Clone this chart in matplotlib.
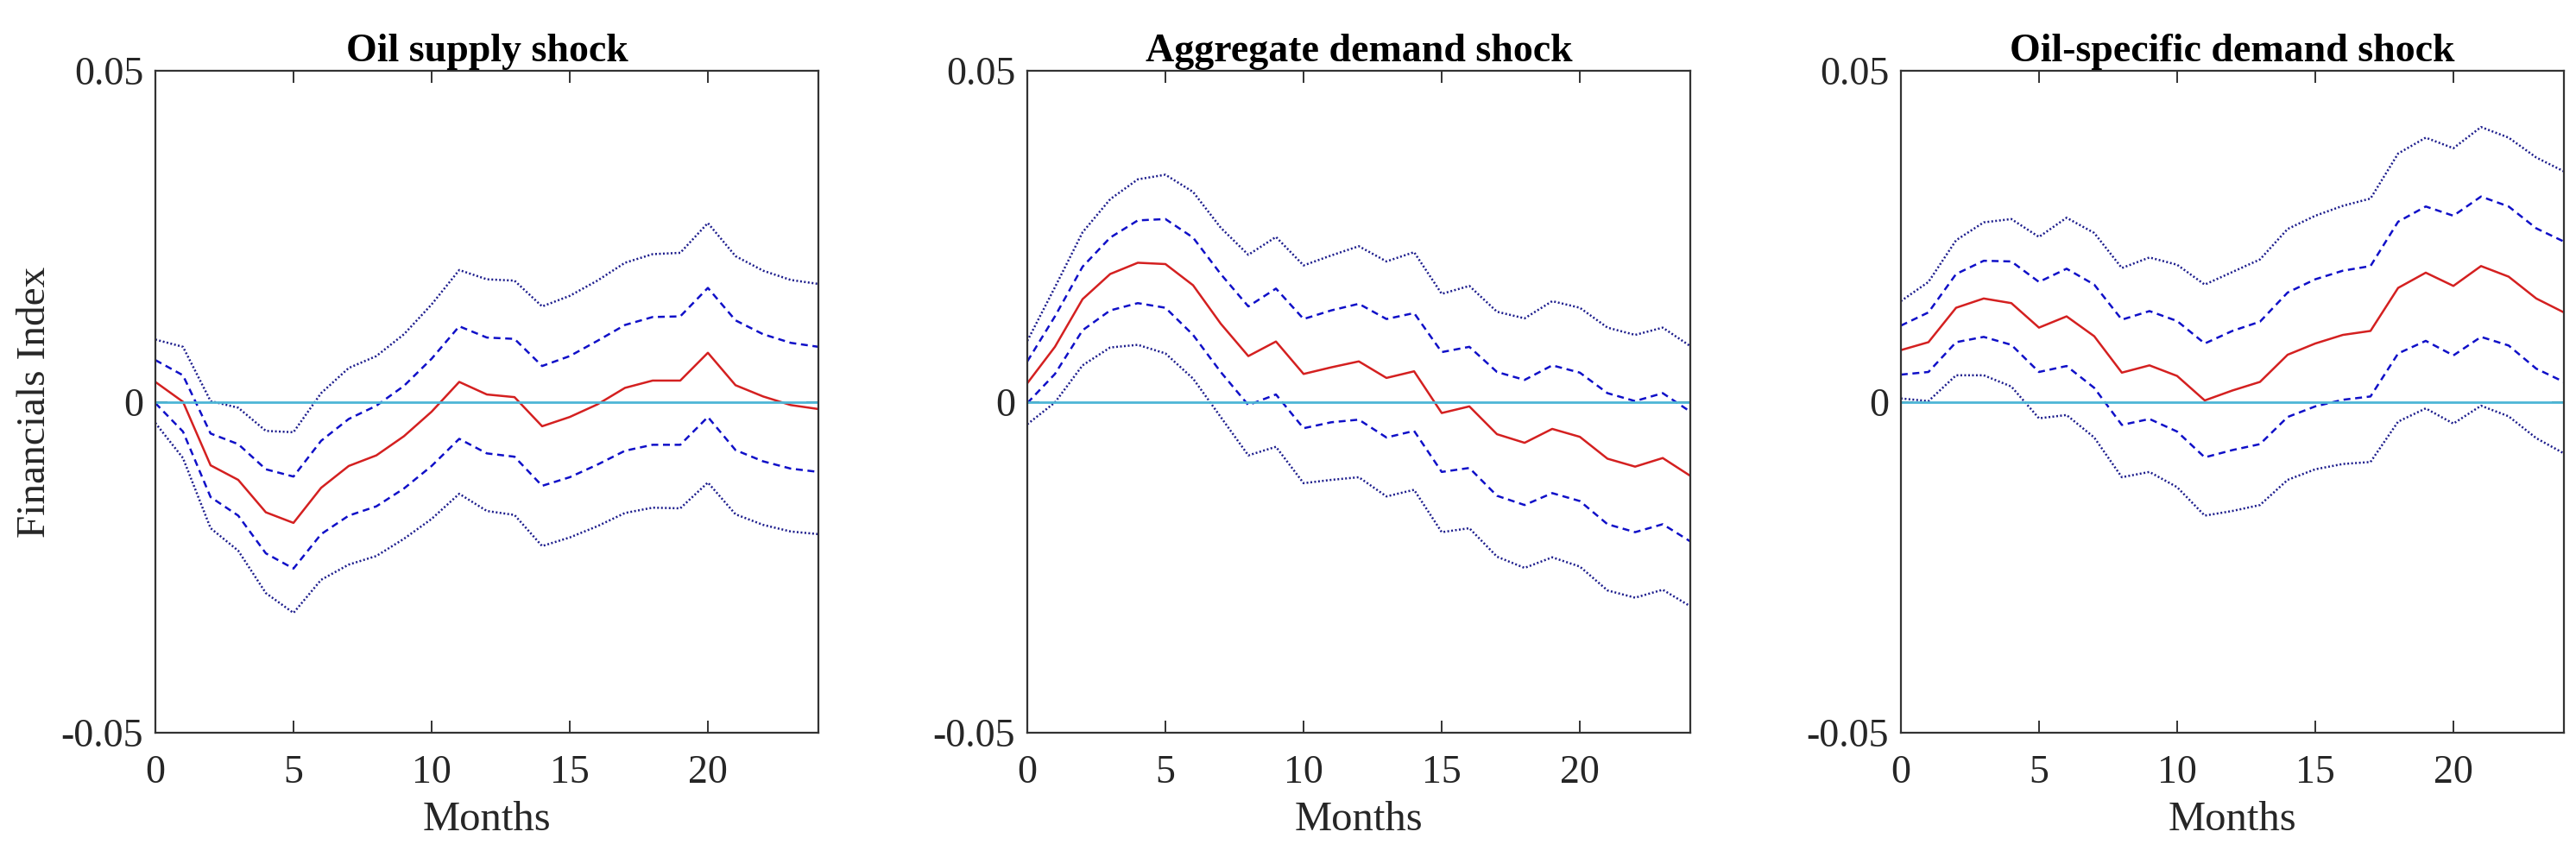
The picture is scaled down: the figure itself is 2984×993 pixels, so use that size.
import numpy as np
import matplotlib
matplotlib.use("Agg")
from matplotlib import pyplot as plt

plt.rcParams['font.family'] = ['Liberation Serif', 'DejaVu Serif']
plt.rcParams['axes.unicode_minus'] = False

months = np.arange(25)
titles = ["Oil supply shock", "Aggregate demand shock", "Oil-specific demand shock"]
ylabel = "Financials Index"
xlabel = "Months"
yticks = [-0.05, 0, 0.05]
ytick_labels = ["-0.05", "0", "0.05"]
xticks = [0, 5, 10, 15, 20]

# oil supply shock
supply_mid = [0.0030, 0.0000, -0.0096, -0.0118, -0.0167, -0.0183, -0.0130, -0.0097, -0.0081, -0.0052,
              -0.0015, 0.0030, 0.0011, 0.0007, -0.0037, -0.0023, -0.0004, 0.0021, 0.0032, 0.0032,
              0.0074, 0.0025, 0.0008, -0.0005, -0.0011]
supply_hi68 = [0.0063, 0.0040, -0.0048, -0.0064, -0.0102, -0.0113, -0.0059, -0.0026, -0.0006, 0.0024,
               0.0065, 0.0114, 0.0097, 0.0095, 0.0054, 0.0069, 0.0092, 0.0116, 0.0128, 0.0129,
               0.0172, 0.0123, 0.0102, 0.0089, 0.0083]
supply_lo68 = [-0.0002, -0.0045, -0.0144, -0.0172, -0.0229, -0.0252, -0.0200, -0.0172, -0.0158, -0.0131,
               -0.0097, -0.0056, -0.0078, -0.0083, -0.0127, -0.0114, -0.0095, -0.0074, -0.0065, -0.0065,
               -0.0023, -0.0073, -0.0090, -0.0101, -0.0106]
supply_hi95 = [0.0094, 0.0083, 0.0001, -0.0009, -0.0044, -0.0046, 0.0013, 0.0051, 0.0069, 0.0102,
               0.0147, 0.0199, 0.0185, 0.0183, 0.0144, 0.0160, 0.0183, 0.0210, 0.0223, 0.0225,
               0.0270, 0.0220, 0.0198, 0.0184, 0.0178]
supply_lo95 = [-0.0032, -0.0085, -0.0191, -0.0225, -0.0289, -0.0319, -0.0269, -0.0246, -0.0233, -0.0207,
               -0.0177, -0.0139, -0.0165, -0.0171, -0.0218, -0.0205, -0.0188, -0.0168, -0.0160, -0.0161,
               -0.0122, -0.0170, -0.0186, -0.0196, -0.0200]

# aggregate demand shock
agg_mid = [0.0028, 0.0083, 0.0155, 0.0193, 0.0210, 0.0208, 0.0176, 0.0118, 0.0069, 0.0091,
           0.0042, 0.0052, 0.0061, 0.0036, 0.0046, -0.0017, -0.0007, -0.0049, -0.0062, -0.0041,
           -0.0053, -0.0086, -0.0098, -0.0085, -0.0112]
agg_hi68 = [0.0061, 0.0129, 0.0204, 0.0248, 0.0274, 0.0276, 0.0248, 0.0193, 0.0144, 0.0171,
            0.0125, 0.0138, 0.0148, 0.0125, 0.0134, 0.0075, 0.0083, 0.0045, 0.0033, 0.0055,
            0.0044, 0.0013, 0.0001, 0.0013, -0.0015]
agg_lo68 = [-0.0002, 0.0042, 0.0108, 0.0138, 0.0149, 0.0142, 0.0101, 0.0045, -0.0005, 0.0011,
            -0.0040, -0.0031, -0.0027, -0.0054, -0.0044, -0.0106, -0.0100, -0.0142, -0.0156, -0.0138,
            -0.0150, -0.0185, -0.0197, -0.0185, -0.0211]
agg_hi95 = [0.0092, 0.0173, 0.0256, 0.0306, 0.0336, 0.0343, 0.0317, 0.0263, 0.0222, 0.0249,
            0.0206, 0.0221, 0.0235, 0.0212, 0.0226, 0.0163, 0.0175, 0.0136, 0.0126, 0.0152,
            0.0142, 0.0112, 0.0101, 0.0112, 0.0084]
agg_lo95 = [-0.0034, -0.0001, 0.0055, 0.0082, 0.0086, 0.0073, 0.0035, -0.0023, -0.0081, -0.0068,
            -0.0123, -0.0118, -0.0114, -0.0143, -0.0133, -0.0197, -0.0191, -0.0234, -0.0251, -0.0235,
            -0.0249, -0.0285, -0.0296, -0.0284, -0.0309]

# oil-specific demand shock
spec_mid = [0.0078, 0.0090, 0.0142, 0.0156, 0.0149, 0.0112, 0.0129, 0.0099, 0.0044, 0.0055,
            0.0039, 0.0002, 0.0017, 0.0030, 0.0071, 0.0088, 0.0101, 0.0107, 0.0172, 0.0195,
            0.0175, 0.0205, 0.0189, 0.0156, 0.0135]
spec_hi68 = [0.0115, 0.0135, 0.0193, 0.0213, 0.0212, 0.0181, 0.0201, 0.0177, 0.0124, 0.0137,
             0.0122, 0.0088, 0.0107, 0.0121, 0.0165, 0.0185, 0.0198, 0.0205, 0.0272, 0.0295,
             0.0281, 0.0310, 0.0295, 0.0262, 0.0242]
spec_lo68 = [0.0041, 0.0045, 0.0090, 0.0098, 0.0086, 0.0045, 0.0054, 0.0021, -0.0035, -0.0026,
             -0.0045, -0.0084, -0.0073, -0.0064, -0.0023, -0.0007, 0.0003, 0.0008, 0.0073, 0.0092,
             0.0070, 0.0098, 0.0085, 0.0050, 0.0030]
spec_hi95 = [0.0152, 0.0181, 0.0244, 0.0271, 0.0276, 0.0249, 0.0278, 0.0255, 0.0202, 0.0218,
             0.0207, 0.0177, 0.0196, 0.0215, 0.0261, 0.0281, 0.0296, 0.0307, 0.0375, 0.0399,
             0.0383, 0.0415, 0.0399, 0.0369, 0.0348]
spec_lo95 = [0.0005, 0.0001, 0.0040, 0.0040, 0.0023, -0.0025, -0.0020, -0.0054, -0.0114, -0.0106,
             -0.0129, -0.0172, -0.0165, -0.0156, -0.0118, -0.0102, -0.0094, -0.0091, -0.0030, -0.0010,
             -0.0033, -0.0006, -0.0022, -0.0055, -0.0078]

panels = [
  (supply_mid, supply_hi68, supply_lo68, supply_hi95, supply_lo95),
  (agg_mid, agg_hi68, agg_lo68, agg_hi95, agg_lo95),
  (spec_mid, spec_hi68, spec_lo68, spec_hi95, spec_lo95),
]

fig = plt.figure(figsize=(14.92, 4.965), dpi=200)
lefts = [0.0603, 0.3988, 0.7379]
frame_col = "#333333"

for i, (mid, hi68, lo68, hi95, lo95) in enumerate(panels):
  ax = fig.add_axes([lefts[i], 0.145, 0.2574, 0.7724])
  ax.plot(months, hi95, color="#1c1c8c", lw=0.9, linestyle=(0, (0.8, 1.0)))
  ax.plot(months, lo95, color="#1c1c8c", lw=0.9, linestyle=(0, (0.8, 1.0)))
  ax.plot(months, hi68, color="#1010c8", lw=0.9, linestyle=(0, (3.2, 2.2)))
  ax.plot(months, lo68, color="#1010c8", lw=0.9, linestyle=(0, (3.2, 2.2)))
  ax.plot(months, mid, color="#d42020", lw=0.9)
  ax.axhline(0, color="#4db6d6", lw=1.0)

  ax.set_xlim(0, 24)
  ax.set_ylim(-0.05, 0.05)
  ax.set_xticks(xticks)
  ax.set_xticklabels([str(t) for t in xticks])
  ax.set_yticks(yticks)
  ax.set_yticklabels(ytick_labels)
  ax.tick_params(direction="in", top=True, right=True, length=5, width=0.7,
                 color=frame_col, labelsize=16.5, labelcolor="#262626")
  ax.tick_params(axis="x", pad=9)
  ax.tick_params(axis="y", pad=5)
  for sp in ax.spines.values():
    sp.set_color(frame_col)
    sp.set_linewidth(0.8)

  ax.set_title(titles[i], fontsize=16.5, fontweight="bold", pad=4)
  ax.set_xlabel(xlabel, fontsize=17.5, color="#262626", labelpad=4)
  if i == 0:
    ax.set_ylabel(ylabel, fontsize=17, color="#262626", labelpad=3)

fig.savefig("out.png", dpi=200)
